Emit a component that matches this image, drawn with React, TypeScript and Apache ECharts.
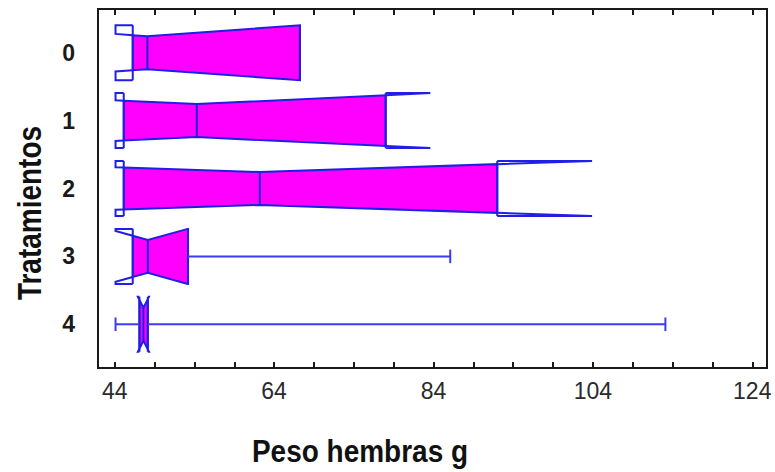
import React, { useEffect, useRef } from 'react';
import * as echarts from 'echarts';

// Treatments (y categories)
const categories = ['0', '1', '2', '3', '4'];
// Box statistics (Peso hembras g)
const whiskerLow = [46.26, 45.13, 45.13, 46.26, 44.1];
const q1 = [46.26, 45.13, 45.13, 46.26, 47.1];
const median = [48.1, 54.3, 62.2, 48.15, 47.6];
const q3 = [67.24, 78.0, 92.0, 53.2, 48.15];
const whiskerHigh = [67.24, 78.0, 92.0, 86.1, 113.1];
const notchHalf = [19.2, 29.3, 41.7, 5.0, 0.7];
const notchFloor = 44.1;
// Axis ticks
const xLabelValues = [44, 64, 84, 104, 124];
const xTickValues = [44, 49, 54, 59, 64, 69, 74, 79, 84, 89, 94, 99, 104, 109, 114, 119, 124];
const yLabelValues = [0, 1, 2, 3, 4];

const FONT = "'Liberation Sans', Arial, sans-serif";
const BLUE = '#1f1fe6';
const WHISK = '#3b3bf2';
const MAGENTA = '#ff00ff';
const AXIS = '#1a1a1a';

export default function App() {
  const ref = useRef<HTMLDivElement>(null);
  useEffect(() => {
    if (!ref.current) return;
    const chart = echarts.init(ref.current, null, { renderer: 'svg' });
    const HALF = 0.405;
    const NARROW = 0.6 * HALF;
    const CAP = 0.1;
    const data = categories.map((c, i) => [
      i, whiskerLow[i], q1[i], median[i], q3[i], whiskerHigh[i], notchHalf[i],
    ]);
    const renderItem = (params: any, api: any) => {
      const k = api.value(0);
      const wl = api.value(1), a = api.value(2), m = api.value(3), b = api.value(4), wh = api.value(5), n = api.value(6);
      const P = (v: number, dy: number) => api.coord([v, k + dy]);
      const half = (v: number) => {
        const d = Math.abs(v - m);
        if (d >= n) return HALF;
        return NARROW + (HALF - NARROW) * d / n;
      };
      const xs: number[] = [a];
      if (m - n > a) xs.push(m - n);
      xs.push(m);
      if (m + n < b) xs.push(m + n);
      xs.push(b);
      const top = xs.map(v => P(v, -half(v)));
      const bottom = xs.slice().reverse().map(v => P(v, half(v)));
      const children: any[] = [];
      children.push({
        type: 'polygon',
        shape: { points: top.concat(bottom) },
        style: { fill: MAGENTA, stroke: BLUE, lineWidth: 2 },
      });
      const lineEl = (p1: number[], p2: number[], color: string, w: number) => ({
        type: 'line',
        shape: { x1: p1[0], y1: p1[1], x2: p2[0], y2: p2[1] },
        style: { stroke: color, lineWidth: w },
      });
      const polyEl = (pts: number[][]) => ({
        type: 'polyline',
        shape: { points: pts },
        style: { stroke: BLUE, lineWidth: 2, fill: null },
      });
      // median
      children.push(lineEl(P(m, -half(m)), P(m, half(m)), BLUE, 2));
      // lower notch beyond Q1
      if (m - n < a) {
        const lo = Math.max(notchFloor, m - n);
        for (const s of [-1, 1]) {
          children.push(polyEl([P(a, s * HALF), P(lo, s * HALF), P(lo, s * half(lo)), P(a, s * half(a))]));
        }
        children.push(lineEl(P(a, -HALF), P(a, HALF), BLUE, 2));
      }
      // upper notch beyond Q3
      if (m + n > b) {
        const hi = m + n;
        for (const s of [-1, 1]) {
          children.push(polyEl([P(b, s * HALF), P(hi, s * HALF), P(hi, s * half(hi)), P(b, s * half(b))]));
        }
        children.push(lineEl(P(b, -HALF), P(b, HALF), BLUE, 2));
      }
      // whiskers
      if (wl < a) {
        children.push(lineEl(P(wl, 0), P(a, 0), WHISK, 2));
        children.push(lineEl(P(wl, -CAP), P(wl, CAP), WHISK, 2));
      }
      if (wh > b) {
        children.push(lineEl(P(b, 0), P(wh, 0), WHISK, 2));
        children.push(lineEl(P(wh, -CAP), P(wh, CAP), WHISK, 2));
      }
      return { type: 'group', children };
    };

    const xMin = 41.9, xMax = 125.85;
    chart.setOption({
      animation: false,
      backgroundColor: '#ffffff',
      grid: {
        left: 98, right: 8, top: 9, bottom: 104,
        show: true, borderColor: AXIS, borderWidth: 2, backgroundColor: 'transparent',
      },
      xAxis: [
        {
          type: 'value', position: 'bottom', min: xMin, max: xMax,
          axisLine: { show: true, onZero: false, lineStyle: { color: AXIS, width: 2 } },
          axisTick: { show: true, inside: true, length: 6, customValues: xTickValues, lineStyle: { color: AXIS, width: 2 } },
          axisLabel: { show: true, customValues: xLabelValues, color: '#2a2a2a', fontSize: 23, fontFamily: FONT, margin: 11 },
          splitLine: { show: false },
        },
        {
          type: 'value', position: 'top', min: xMin, max: xMax,
          axisLine: { show: true, onZero: false, lineStyle: { color: AXIS, width: 2 } },
          axisTick: { show: true, inside: true, length: 6, customValues: xTickValues, lineStyle: { color: AXIS, width: 2 } },
          axisLabel: { show: false },
          splitLine: { show: false },
        },
      ],
      yAxis: {
        type: 'value', inverse: true, min: -0.644, max: 4.644,
        axisLine: { show: true, onZero: false, lineStyle: { color: AXIS, width: 2 } },
        axisTick: { show: false },
        axisLabel: {
          show: true, customValues: yLabelValues, color: '#1a1a1a', fontSize: 23, fontWeight: 'bold', fontFamily: FONT, margin: 23,
          formatter: (v: number) => categories[Math.round(v)] ?? '',
        },
        splitLine: { show: false },
      },
      graphic: [
        {
          type: 'text', x: 30, y: 213, rotation: Math.PI / 2, scaleY: 1.2,
          style: { text: 'Tratamientos', fill: '#111', font: `bold 28px ${FONT}`, textAlign: 'center', textVerticalAlign: 'middle' },
        },
        {
          type: 'text', x: 360, y: 451, scaleY: 1.15,
          style: { text: 'Peso hembras g', fill: '#111', font: `bold 28px ${FONT}`, textAlign: 'center', textVerticalAlign: 'middle' },
        },
      ],
      series: [
        {
          type: 'custom',
          renderItem,
          encode: { x: [1, 2, 3, 4, 5], y: 0 },
          data,
          clip: false,
        },
      ],
    });
    return () => chart.dispose();
  }, []);
  return <div ref={ref} style={{ position: 'fixed', left: 0, top: 0, width: 775, height: 472 }} />;
}
